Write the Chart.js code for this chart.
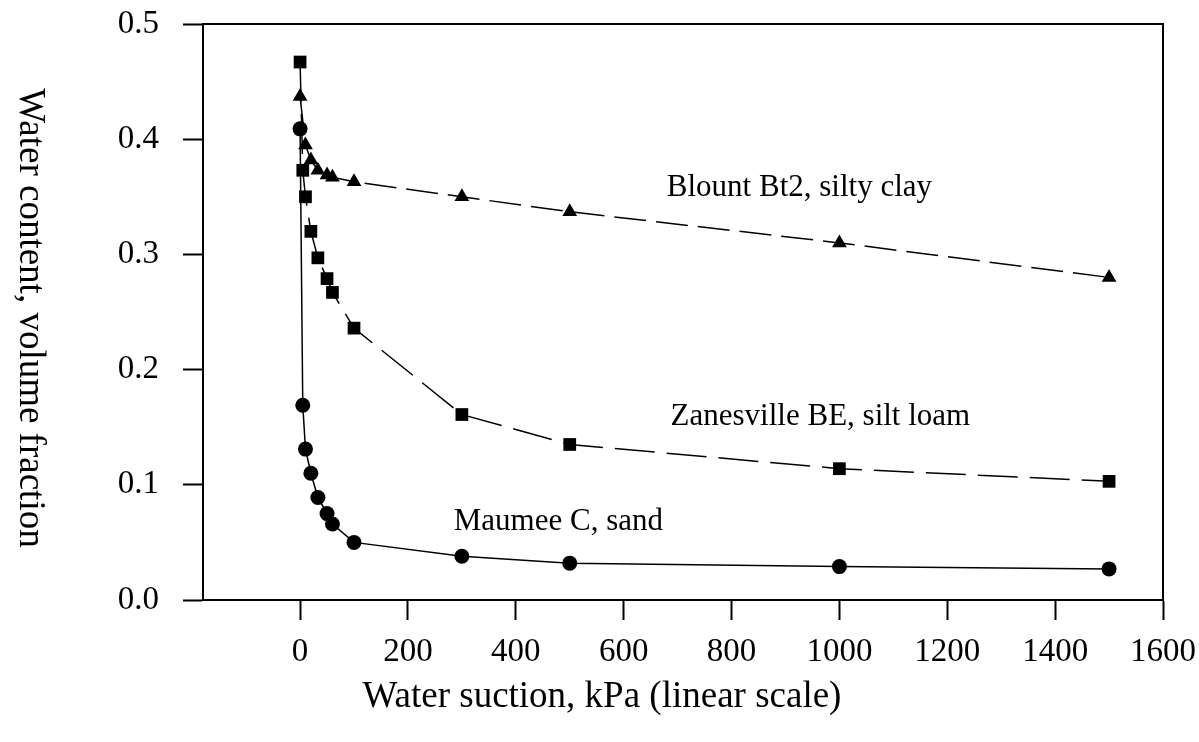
<!DOCTYPE html>
<html lang="en">
<head>
<meta charset="UTF-8">
<title>Water retention curves</title>
<style>
  html, body { margin: 0; padding: 0; background: #fff; }
  #wrap { width: 1199px; height: 742px; }
</style>
</head>
<body>
<div id="wrap"><canvas id="retentionChart" width="1199" height="742"></canvas></div>
<script src="https://cdn.jsdelivr.net/npm/chart.js"></script>
<script>
// water suction (kPa) where each soil was measured
var suction    = [0, 5, 10, 20, 33, 50, 60, 100, 300, 500, 1000, 1500];
// water content, volume fraction
var maumee     = [0.409, 0.169, 0.131, 0.110, 0.089, 0.075, 0.066, 0.050, 0.038, 0.032, 0.029, 0.027];
var zanesville = [0.467, 0.373, 0.350, 0.320, 0.297, 0.279, 0.267, 0.236, 0.161, 0.135, 0.114, 0.103];
var blount     = [0.437, null, 0.395, 0.382, 0.373, 0.369, 0.367, 0.363, 0.350, 0.337, 0.310, 0.280];

var soilNames = ["Maumee C, sand", "Zanesville BE, silt loam", "Blount Bt2, silty clay"];
var xTitle = "Water suction, kPa (linear scale)";
var yTitle = "Water content, volume fraction";
var xTicks = [0, 200, 400, 600, 800, 1000, 1200, 1400, 1600];
var yTicks = [0, 0.1, 0.2, 0.3, 0.4, 0.5];

// where the curve names sit (data units, left end of text baseline)
var labelAt = [[285, 0.061], [687, 0.152], [680, 0.351]];

var serif = "'Liberation Serif', 'Times New Roman', serif";

function points(vals) {
    var out = [];
    suction.forEach(function (s, i) {
        if (vals[i] !== null) out.push({ x: s, y: vals[i] });
    });
    return out;
}

// top + right edges of the plot box
var framePlugin = {
    id: 'frame',
    afterDraw: function (chart) {
        var a = chart.chartArea, ctx = chart.ctx;
        ctx.save();
        ctx.strokeStyle = '#000';
        ctx.lineWidth = 2;
        ctx.beginPath();
        ctx.moveTo(a.left, a.top);
        ctx.lineTo(a.right, a.top);
        ctx.lineTo(a.right, a.bottom);
        ctx.stroke();
        ctx.restore();
    }
};

// curve names and axis titles
var textPlugin = {
    id: 'texts',
    afterDraw: function (chart) {
        var ctx = chart.ctx, xs = chart.scales.x, ys = chart.scales.y;
        ctx.save();
        ctx.fillStyle = '#000';
        ctx.font = '31px ' + serif;
        ctx.textAlign = 'left';
        ctx.textBaseline = 'alphabetic';
        soilNames.forEach(function (name, i) {
            ctx.fillText(name, xs.getPixelForValue(labelAt[i][0]), ys.getPixelForValue(labelAt[i][1]));
        });

        ctx.font = '37px ' + serif;
        ctx.textAlign = 'center';
        ctx.textBaseline = 'middle';
        ctx.fillText(xTitle, 602, 697);

        ctx.translate(30, 318);
        ctx.rotate(Math.PI / 2);
        ctx.fillText(yTitle, 0, 0);
        ctx.restore();
    }
};

var ctx = document.getElementById('retentionChart').getContext('2d');
new Chart(ctx, {
    type: 'scatter',
    data: {
        datasets: [
            { label: soilNames[0], data: points(maumee), showLine: true, borderColor: '#000', borderWidth: 1.5,
              pointStyle: 'circle', pointRadius: 7.5, backgroundColor: '#000', pointBorderWidth: 0 },
            { label: soilNames[1], data: points(zanesville), showLine: true, borderColor: '#000', borderWidth: 1.5,
              borderDash: [40, 12], pointStyle: 'rect', pointRadius: 9, backgroundColor: '#000', pointBorderWidth: 0 },
            { label: soilNames[2], data: points(blount), showLine: true, borderColor: '#000', borderWidth: 1.5,
              borderDash: [32, 10], pointStyle: 'triangle', pointRadius: 8.5, backgroundColor: '#000', pointBorderWidth: 0 }
        ]
    },
    options: {
        responsive: false,
        animation: false,
        events: [],
        layout: { padding: { top: 24, right: 36, left: 0, bottom: 0 } },
        plugins: {
            legend: { display: false },
            tooltip: { enabled: false }
        },
        scales: {
            x: {
                type: 'linear', min: -180, max: 1600,
                afterBuildTicks: function (s) { s.ticks = xTicks.map(function (v) { return { value: v }; }); },
                afterFit: function (s) { s.height = 142; s.paddingLeft = 0; s.paddingRight = 0; },
                ticks: { color: '#000', font: { family: serif, size: 33 }, padding: 13, maxRotation: 0, autoSkip: false,
                         callback: function (v) { return String(v); } },
                grid: { drawOnChartArea: false, tickLength: 20, tickColor: '#000', tickWidth: 2 },
                border: { color: '#000', width: 2 }
            },
            y: {
                min: 0, max: 0.5,
                afterBuildTicks: function (s) { s.ticks = yTicks.map(function (v) { return { value: v }; }); },
                afterFit: function (s) { s.width = 203; s.paddingTop = 0; s.paddingBottom = 0; },
                ticks: { color: '#000', font: { family: serif, size: 33 }, padding: 24,
                         callback: function (v) { return v.toFixed(1); } },
                grid: { drawOnChartArea: false, tickLength: 20, tickColor: '#000', tickWidth: 2 },
                border: { color: '#000', width: 2 }
            }
        }
    },
    plugins: [framePlugin, textPlugin]
});
</script>
</body>
</html>
